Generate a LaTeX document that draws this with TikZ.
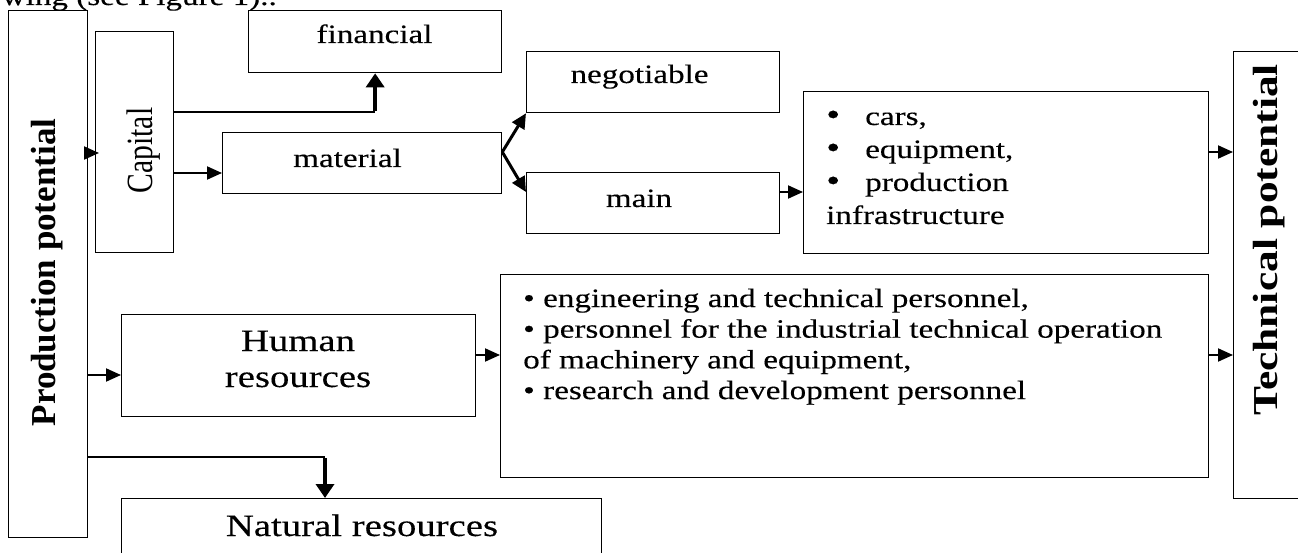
\documentclass[tikz,border=0pt]{standalone}
\usepackage{fontspec}
\setmainfont{Liberation Serif}
\newfontfamily\wf{Liberation Serif}[FakeStretch=1.25,FakeBold=0.25]
\usetikzlibrary{arrows.meta}
\newcommand{\bigbul}{\makebox[39pt][l]{\scalebox{1.2}{•}}}
\newcommand{\smbul}{\makebox[20pt][l]{•}}
\begin{document}
\begin{tikzpicture}[x=1pt,y=-1pt,
  box/.style={draw, line width=1.3pt, inner sep=0pt, anchor=north west},
  lbl/.style={inner sep=0pt, font=\wf\fontsize{26.5}{31}\selectfont},
  big/.style={inner sep=0pt, font=\wf\fontsize{31}{36}\selectfont},
  arr/.style={line width=2pt, -{Triangle[length=15pt,width=13pt]}},
  darr/.style={line width=3pt, -{Triangle[length=15pt,width=14pt]}},
  tarr/.style={line width=4.5pt, -{Triangle[length=14pt,width=18pt]}},
  ln/.style={line width=2pt}]
\useasboundingbox (0,0) rectangle (1298,553);
\clip (0,0) rectangle (1298,553);

% boxes
\node[box, minimum width=79pt,  minimum height=527pt] (prod)  at (8,10) {};
\node[box, minimum width=78pt,  minimum height=221pt] (cap)   at (95,31) {};
\node[box, minimum width=253pt, minimum height=62pt]  (fin)   at (248,10) {};
\node[box, minimum width=279pt, minimum height=61pt]  (mat)   at (222,132) {};
\node[box, minimum width=253pt, minimum height=61pt]  (neg)   at (526,51) {};
\node[box, minimum width=253pt, minimum height=61pt]  (mn)    at (526,172) {};
\node[box, minimum width=405pt, minimum height=162pt] (cars)  at (803,91) {};
\node[box, minimum width=100pt, minimum height=447pt] (tech)  at (1233,51) {};
\node[box, minimum width=354pt, minimum height=102pt] (human) at (121,314) {};
\node[box, minimum width=708pt, minimum height=203pt] (pers)  at (500,274) {};
\node[box, minimum width=480pt, minimum height=100pt] (nat)   at (121,498) {};

% texts
\node[lbl, anchor=base east] (topt) at (277,5) {wing (see Figure 1)..};
\node[rotate=90, inner sep=0pt, font=\bfseries\fontsize{35}{35}\selectfont] (prodt) at (47.5,272.5) {Production potential};
\node[rotate=90, inner sep=0pt, anchor=base] (capt) at (152,150.5) {\scalebox{0.8}[1]{\fontsize{37}{37}\selectfont Capital}};
\node[rotate=90, inner sep=0pt] (techt) at (1269,240) {\scalebox{1.24}[1]{\bfseries\fontsize{35}{35}\selectfont Technical potential}};
\node[lbl, anchor=base] (fint) at (374.5,43) {financial};
\node[lbl, anchor=base] (matt) at (347.5,167) {material};
\node[lbl, anchor=base] (negt) at (639.5,83) {negotiable};
\node[lbl, anchor=base] (mnt)  at (639,207) {main};
\node[lbl, anchor=base west, font=\wf\fontsize{26.5}{33}\selectfont] (carst) at (826,125)
  {\begin{tabular}[t]{@{}l@{}}\bigbul cars,\\ \bigbul equipment,\\ \bigbul production\\ infrastructure\end{tabular}};
\node[lbl, anchor=base west, font=\wf\fontsize{26.5}{30.7}\selectfont] (perst) at (523,307)
  {\begin{tabular}[t]{@{}l@{}}\smbul engineering and technical personnel,\\ \smbul personnel for the industrial technical operation\\ of machinery and equipment,\\ \smbul research and development personnel\end{tabular}};
\node[big, anchor=base] (humant) at (298,351) {\begin{tabular}[t]{@{}c@{}}Human\\ resources\end{tabular}};
\node[big, anchor=base] (natt) at (362,536) {Natural resources};

% connectors
\coordinate (fj) at (fin.south |- 0,112);
\coordinate (nj) at (325,457);
\draw[arr] (prod.east |- 0,153) -- ([xshift=4pt]cap.west |- 0,153);
\draw[ln] (cap.east |- 0,112) -- (fj);
\draw[tarr] ([yshift=1pt]fj) -- (fin.south);
\draw[arr] (cap.east |- 0,173) -- (mat.west |- 0,173);
\draw[darr] (mat.east |- 0,152) -- (neg.south west);
\draw[darr] (mat.east |- 0,152) -- (mn.west |- 0,192);
\draw[arr] (mn.east |- 0,192) -- (cars.west |- 0,192);
\draw[arr] (cars.east |- 0,152) -- (tech.west |- 0,152);
\draw[arr] (prod.east |- 0,375) -- (human.west |- 0,375);
\draw[arr] (human.east |- 0,355) -- (pers.west |- 0,355);
\draw[arr] (pers.east |- 0,355) -- (tech.west |- 0,355);
\draw[ln] (prod.east |- nj) -- (nj);
\draw[tarr] ([yshift=-1pt]nj) -- (nat.north -| nj);
\end{tikzpicture}
\end{document}
